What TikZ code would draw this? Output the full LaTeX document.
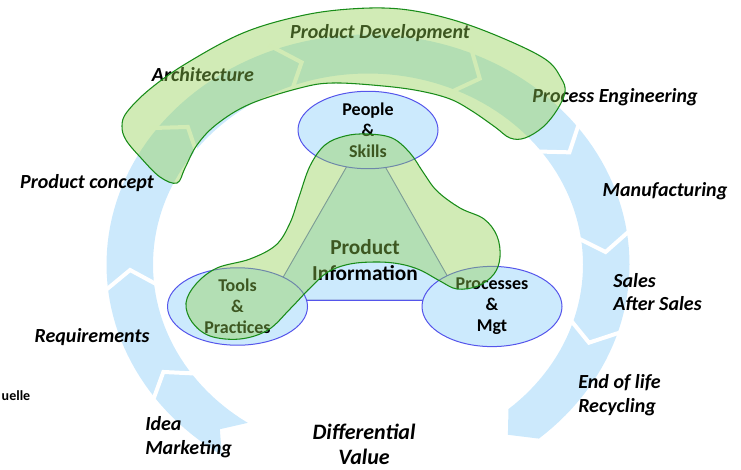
\documentclass[tikz,border=0pt]{standalone}
\usepackage{fontspec}
\setmainfont{Carlito}
\usetikzlibrary{shapes.geometric}
\definecolor{ringblue}{RGB}{204,233,252}
\definecolor{ellblue}{RGB}{204,234,253}
\definecolor{ellline}{RGB}{85,85,235}
\definecolor{triline}{RGB}{110,120,200}
\definecolor{lgreen}{RGB}{146,208,80}
\definecolor{dgreen}{RGB}{25,140,25}
\tikzset{
  greenblob/.style={fill=lgreen, fill opacity=0.42, draw=dgreen, line width=0.8pt},
  ellnode/.style={ellipse, fill=ellblue, draw=ellline, line width=0.75pt, minimum width=105pt, minimum height=57pt, inner sep=0pt, align=center, font=\fontsize{13.5}{15.75}\selectfont\bfseries},
  lbl/.style={font=\fontsize{15}{17.5}\selectfont\bfseries\itshape, inner sep=0pt},
  difflbl/.style={font=\fontsize{16.5}{20}\selectfont\bfseries\itshape, inner sep=0pt, anchor=base},
  chev/.style={white, line width=3pt, line join=miter}
}
\begin{document}
\begin{tikzpicture}[x=0.75pt, y=-0.75pt]
\useasboundingbox (0,0) rectangle (741,470);
% ring
\fill[ringblue] plot[domain=236:-49.2, samples=140] ({368+261.5*cos(\x)},{264.5-230*sin(\x)})
  -- ({368+238*cos(-54)},{264.5-210.5*sin(-54)})
  -- plot[domain=-49.2:236, samples=140] ({368+215*cos(\x)},{264.5-191*sin(\x)})
  -- ({368+238*cos(231.5)},{264.5-210.5*sin(231.5)}) -- cycle;
\foreach \t in {210.7,181.5,139.2,106.2,62,32.2,3.4,-21.8}{
  \draw[chev] ({368+268*cos(\t+5.5)},{264.5-236*sin(\t+5.5)})
    -- ({368+238*cos(\t)},{264.5-210.5*sin(\t)})
    -- ({368+208*cos(\t+5.5)},{264.5-185*sin(\t+5.5)});
}
% triangle
\coordinate (tA) at (366,133);
\coordinate (tB) at (270,300);
\coordinate (tC) at (461,300);
\filldraw[fill=ellblue, draw=triline, line width=0.7pt] (tA) -- (tB) -- (tC) -- cycle;
\draw[ellline, line width=0.75pt] (tB) -- (tC);
% ellipses
\node[ellnode] (people) at (368,130) {People\\\&\\Skills};
\node[ellnode] (tools) at (237.5,306.5) {Tools\\\&\\Practices};
\node[ellnode] (procs) at (492,306.5) {Processes\\\&\\Mgt};
\node[font=\fontsize{16}{19.5}\selectfont\bfseries, align=center, inner sep=0pt] (pinfo) at (365,260) {Product\\Information};
% labels
\node[lbl] (pdev) at (380,33) {Product Development};
\node[lbl] (arch) at (203,75) {Architecture};
\node[lbl] (peng) at (615,97) {Process Engineering};
\node[lbl] (pcon) at (87,183) {Product concept};
\node[lbl] (manu) at (665,191) {Manufacturing};
\node[lbl, align=left, anchor=west] (sales) at (613,292) {Sales\\After Sales};
\node[lbl, align=left, anchor=west] (eol) at (578,395) {End of life\\Recycling};
\node[lbl] (req) at (92,337) {Requirements};
\node[lbl, align=left, anchor=west] (idea) at (145,437) {Idea\\Marketing};
\node[difflbl] (diff) at (364,439) {Differential};
\node[difflbl] (value) at (364,464) {Value};
\node[font=\fontsize{10.5}{12}\selectfont\bfseries, inner sep=0pt, anchor=east] (uel) at (30.5,396) {uelle};
% green overlays
\filldraw[greenblob] plot[smooth cycle, tension=0.6] coordinates {
  (177,183) (160,177) (141,158) (126,140) (122,126) (127,112) (150,89) (187,63)
  (243,33) (300,16) (350,9) (400,9) (450,19) (500,37) (545,59) (561,78) (565,92)
  (557,110) (543,127) (525,138) (510,138) (495,127) (472,111) (450,99) (420,91)
  (383,86) (333,83) (300,88) (250,104) (217,124) (197,145) (185,168)};
\filldraw[greenblob] plot[smooth cycle, tension=0.6] coordinates {
  (367,134) (392,138) (410,153) (423,172) (437,191) (460,208) (484,219) (497,236)
  (500,257) (494,274) (478,286) (457,289) (440,281) (420,270) (400,264) (377,262)
  (350,264) (328,272) (310,288) (290,309) (268,330) (240,339) (210,336) (192,322)
  (186,303) (196,284) (217,268) (250,259) (276,245) (290,223) (299,197) (310,166)
  (325,145) (345,136)};
\end{tikzpicture}
\end{document}
